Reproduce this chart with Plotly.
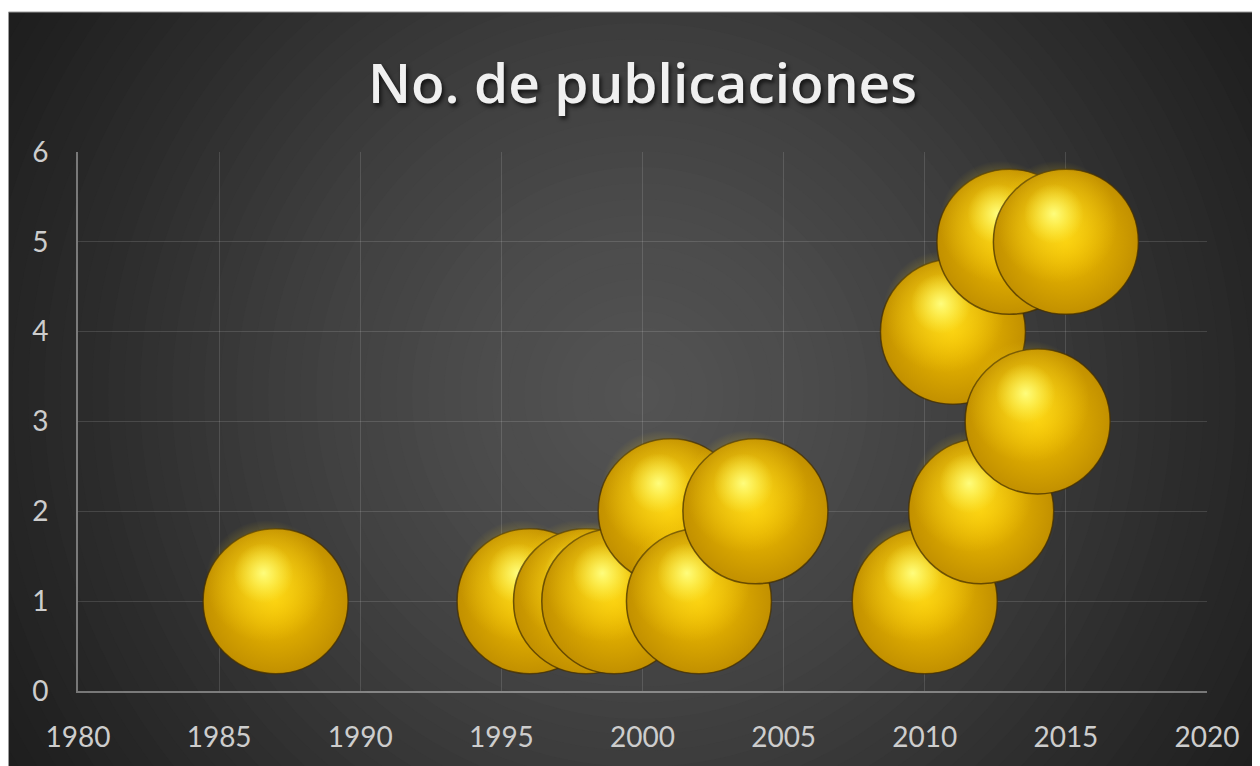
import plotly.graph_objects as go

# ---- data ----
years = [1987, 1996, 1998, 1999, 2001, 2002, 2004, 2010, 2011, 2012, 2013, 2014, 2015]
pubs = [1, 1, 1, 1, 2, 1, 2, 1, 4, 2, 5, 3, 5]
x_ticks = [1980, 1985, 1990, 1995, 2000, 2005, 2010, 2015, 2020]
y_ticks = [0, 1, 2, 3, 4, 5, 6]
chart_title = "No. de publicaciones"

# ---- layout constants (page body has an 8px margin) ----
OFF = 8
W, H = 1260 - OFF, 766 - OFF
ML, MR, MT, MB = 78 - OFF, 53, 152 - OFF, 75
PW, PH = W - ML - MR, H - MT - MB
XR = (1980, 2020)
YR = (0, 6)
px_x = PW / (XR[1] - XR[0])
px_y = PH / (YR[1] - YR[0])

BUBBLE = 145

# sphere shading layers: (size, dx_px, dy_px_up, edge colour, centre colour)
layers = [
    (BUBBLE, 0, 0, "#c29000", "#f6c400"),
    (122, -9, 20, "rgba(255,215,20,0)", "rgba(255,228,40,0.85)"),
    (60, -12, 28, "rgba(255,245,80,0)", "rgba(255,255,130,0.95)"),
]

fig = go.Figure()

for xv, yv in zip(years, pubs):
    for i, (sz, dx, dy, edge, centre) in enumerate(layers):
        fig.add_trace(go.Scatter(
            x=[xv + dx / px_x], y=[yv + dy / px_y], mode="markers",
            hoverinfo="x+y" if i == 0 else "skip", showlegend=False,
            cliponaxis=False,
            marker=dict(size=sz, color=edge,
                        gradient=dict(type="radial", color=centre),
                        line=dict(width=1.5 if i == 0 else 0,
                                  color="rgba(70,48,0,0.75)"))))

# ---- background: radial gradient via concentric circles ----
shapes = []
cx = (640 - OFF - ML) / PW
cy = (H - MB - (395 - OFF)) / PH
stops = [(0, 84), (180, 75), (360, 62), (540, 45), (720, 31), (820, 28)]


def shade(r):
    for (r0, v0), (r1, v1) in zip(stops[:-1], stops[1:]):
        if r0 <= r <= r1:
            t = (r - r0) / (r1 - r0)
            return v0 + t * (v1 - v0)
    return stops[-1][1]


r = 820
while r > 0:
    v = int(round(shade(r)))
    shapes.append(dict(type="circle", xref="paper", yref="paper",
                       xsizemode="pixel", ysizemode="pixel",
                       xanchor=cx, yanchor=cy, x0=-r, x1=r, y0=-r, y1=r,
                       fillcolor=f"rgb({v},{v},{v})", line=dict(width=0),
                       layer="below"))
    r -= 16

# white strip at top and thin edge lines
ty = (H - MB - (12 - OFF)) / PH
lx = (0.5 - ML) / PW
shapes.append(dict(type="rect", xref="paper", yref="paper",
                   x0=-1, x1=3, y0=ty, y1=3, fillcolor="white",
                   line=dict(width=0), layer="above"))
shapes.append(dict(type="line", xref="paper", yref="paper",
                   x0=lx, x1=lx, y0=-1, y1=ty, line=dict(width=1, color="#9a9a9a"),
                   layer="above"))
shapes.append(dict(type="line", xref="paper", yref="paper",
                   x0=lx, x1=3, y0=ty, y1=ty, line=dict(width=1, color="#9a9a9a"),
                   layer="above"))

grid_col = "rgba(255,255,255,0.13)"
axis_col = "rgba(255,255,255,0.38)"
tick_font = dict(family="Lato, 'Open Sans', sans-serif", size=28, color="#cdcdcd")

fig.update_layout(
    width=W, height=H,
    margin=dict(l=ML, r=MR, t=MT, b=MB, pad=0, autoexpand=False),
    paper_bgcolor="#1e1e1e",
    plot_bgcolor="rgba(0,0,0,0)",
    shapes=shapes,
    showlegend=False,
    title=dict(text=chart_title, x=0.5, xref="paper", xanchor="center",
               y=1 - (84 - OFF) / H, yref="container", yanchor="middle",
               font=dict(family="'Open Sans', sans-serif", size=55,
                         color="#f0f0f0", weight=600,
                         shadow="2px 3px 4px rgba(0,0,0,0.7)")),
    xaxis=dict(range=list(XR), tickvals=x_ticks, ticktext=[str(t) for t in x_ticks],
               showgrid=True, gridcolor=grid_col, gridwidth=1,
               showline=True, linecolor=axis_col, linewidth=2,
               zeroline=False, ticks="", tickfont=tick_font, automargin=False,
               ticklabelstandoff=20, fixedrange=True),
    yaxis=dict(range=list(YR), tickvals=y_ticks, ticktext=[str(t) for t in y_ticks],
               showgrid=True, gridcolor=grid_col, gridwidth=1,
               showline=True, linecolor=axis_col, linewidth=2,
               zeroline=False, ticks="", tickfont=tick_font, automargin=False,
               ticklabelstandoff=22, fixedrange=True),
)

fig.write_html("out.html")
